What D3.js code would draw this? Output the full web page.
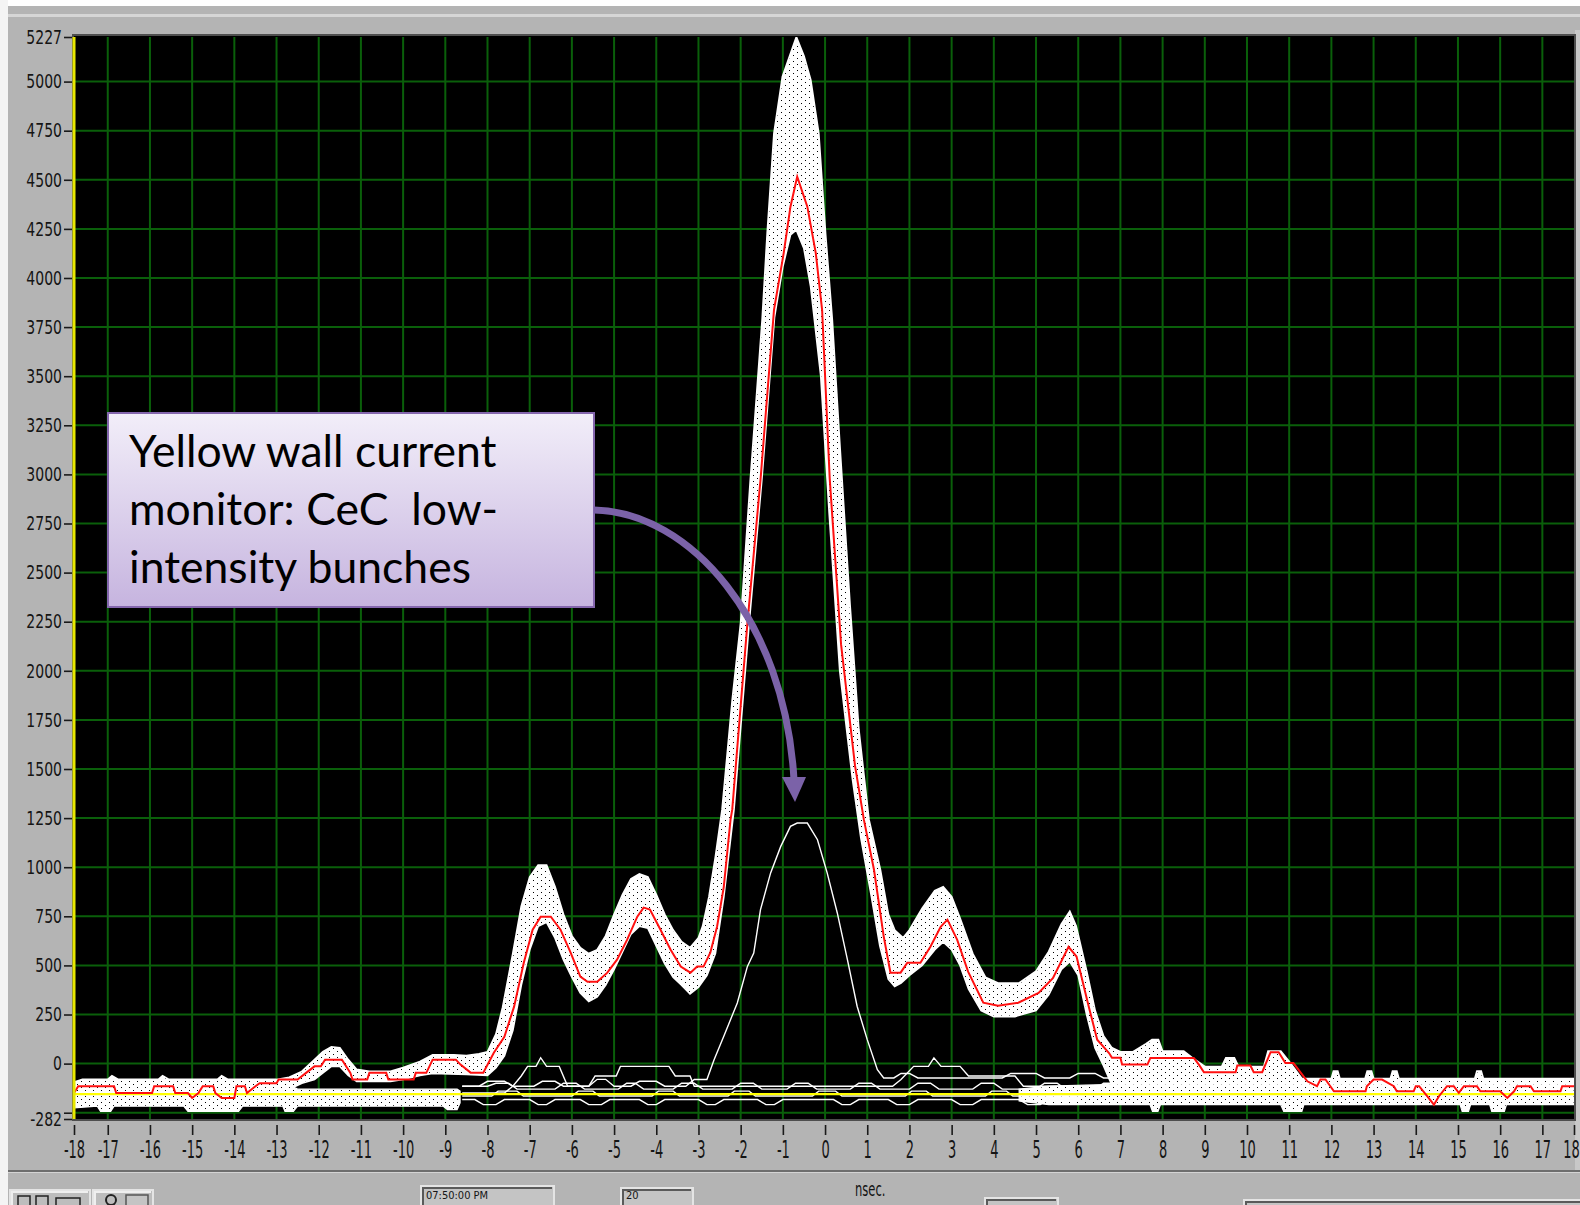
<!DOCTYPE html>
<html lang="en">
<head>
<meta charset="UTF-8">
<script src="https://d3js.org/d3.v7.min.js"></script>
<title>Yellow wall current monitor</title>
<style>
  body { margin:0; background:#b4b4b4; overflow:hidden; }
  .lbl { font-family: 'Liberation Sans Narrow','Arial Narrow','DejaVu Sans Condensed',sans-serif; fill:#151515; }
  .note { font-family: Lato, 'Open Sans', sans-serif; fill:#000; }
</style>
</head>
<body>
<div id="scope"></div>
<script>

// axis ticks (ns on x, counts on y)
let xTickValues = [-17.8,-17,-16,-15,-14,-13,-12,-11,-10,-9,-8,-7,-6,-5,-4,-3,-2,-1,0,
                   1,2,3,4,5,6,7,8,9,10,11,12,13,14,15,16,17,17.75]
let xTickText = ["-18","-17","-16","-15","-14","-13","-12","-11","-10","-9","-8","-7","-6","-5","-4","-3","-2","-1","0",
                 "1","2","3","4","5","6","7","8","9","10","11","12","13","14","15","16","17","18"]
let yTickValues = [-282,-250,0,250,500,750,1000,1250,1500,1750,2000,2250,2500,2750,3000,3250,3500,3750,4000,4250,4500,4750,5000,5227]
let yTickText = ["-282","","0","250","500","750","1000","1250","1500","1750","2000","2250","2500","2750","3000","3250","3500","3750","4000","4250","4500","4750","5000","5227"]

// outer edge of the high-intensity bunch traces [ns, value]
let envUpper = [[-17.8,-95],[-17.6,-81],[-17.0,-81],[-16.9,-62],[-16.75,-81],[-15.8,-81],[-15.7,-62],[-15.55,-81],
  [-14.4,-81],[-14.3,-62],[-14.15,-81],[-13.0,-81],[-12.7,-70],[-12.4,-40],[-12.1,20],[-11.9,60],[-11.7,85],
  [-11.5,80],[-11.3,20],[-11.1,-30],[-10.8,-40],[-10.3,-40],[-10.0,-20],[-9.6,10],[-9.3,45],[-8.8,45],[-8.5,40],
  [-8.2,50],[-8.0,60],[-7.8,150],[-7.64,287],[-7.4,560],[-7.2,800],[-7.0,950],[-6.8,1010],[-6.6,1010],[-6.4,900],
  [-6.2,760],[-6.0,650],[-5.8,590],[-5.6,560],[-5.4,580],[-5.2,650],[-5.0,760],[-4.8,860],[-4.6,940],[-4.4,965],
  [-4.2,950],[-4.0,860],[-3.8,760],[-3.6,680],[-3.4,620],[-3.2,590],[-3.0,640],[-2.9,700],[-2.75,850],[-2.6,1050],
  [-2.44,1293],[-2.2,1850],[-2.0,2243],[-1.77,2972],[-1.49,3787],[-1.37,4228],[-1.21,4737],[-1.01,5025],
  [-0.68,5227],[-0.5,5130],[-0.34,5008],[-0.15,4737],[0.01,4228],[0.17,3787],[0.35,3150],[0.59,2338],[0.8,1700],
  [1.04,1242],[1.31,987],[1.5,760],[1.65,680],[1.85,640],[2.0,680],[2.3,790],[2.6,880],[2.8,900],[3.0,850],
  [3.2,740],[3.5,560],[3.8,440],[4.1,410],[4.6,410],[5.0,470],[5.3,570],[5.6,710],[5.8,775],[5.95,700],[6.2,470],
  [6.4,270],[6.6,140],[6.8,80],[7.0,60],[7.3,60],[7.6,100],[7.75,122],[7.9,122],[8.0,63],[8.5,63],[8.7,30],
  [9.0,-15],[9.4,-15],[9.5,29],[9.7,29],[9.8,-15],[10.4,-15],[10.5,63],[10.8,63],[11.0,10],[11.3,-76],[12.0,-76],
  [12.05,-39],[12.15,-39],[12.2,-76],[12.8,-76],[12.85,-39],[12.95,-39],[13.0,-76],[13.4,-76],[13.45,-39],
  [13.55,-39],[13.6,-76],[15.4,-76],[15.45,-39],[15.55,-39],[15.6,-76],[17.75,-76]]

// inner edge of the same traces [ns, value]
let envLower = [[-17.8,-130],[-12.7,-130],[-12.4,-100],[-12.1,-80],[-11.9,-47],[-11.7,-14],[-11.5,-14],[-11.3,-60],
  [-11.1,-90],[-10.3,-90],[-10.0,-80],[-9.6,-60],[-9.3,-50],[-8.5,-55],[-8.0,-60],[-7.8,-20],[-7.6,40],[-7.4,170],
  [-7.2,400],[-7.0,580],[-6.8,700],[-6.6,720],[-6.4,640],[-6.2,530],[-6.0,440],[-5.8,360],[-5.6,317],[-5.4,340],
  [-5.2,400],[-5.0,480],[-4.8,570],[-4.6,660],[-4.4,700],[-4.2,690],[-4.0,600],[-3.8,510],[-3.6,440],[-3.4,400],
  [-3.2,355],[-3.0,390],[-2.8,450],[-2.6,560],[-2.4,850],[-2.16,1293],[-1.8,2243],[-1.5,2972],[-1.2,3800],
  [-1.0,4060],[-0.82,4220],[-0.68,4245],[-0.5,4150],[-0.34,3956],[-0.1,3500],[0.1,2800],[0.35,2000],[0.65,1450],
  [0.85,1150],[1.1,850],[1.3,600],[1.5,430],[1.65,393],[1.8,410],[2.0,450],[2.3,500],[2.6,580],[2.8,620],
  [3.0,580],[3.2,500],[3.4,380],[3.7,270],[4.0,240],[4.5,240],[5.0,270],[5.3,350],[5.6,480],[5.8,520],[6.0,450],
  [6.2,250],[6.4,80],[6.6,-10],[6.8,-110],[17.75,-110]]

// solid noise band of all traces near the baseline [ns, top, bottom]
let baseLeft = [[-17.8,-100,-225],[-17.25,-100,-217],[-17.17,-100,-243],[-16.93,-100,-243],[-16.85,-100,-217],
  [-15.2,-100,-217],[-15.1,-100,-243],[-13.9,-100,-243],[-13.8,-100,-217],[-12.85,-100,-217],[-12.8,-110,-243],
  [-12.6,-120,-243],[-12.5,-130,-217],[-9.05,-130,-217],[-8.95,-130,-234],[-8.72,-130,-234],[-8.65,-140,-200]]
let baseRight = [[4.6,-130,-190],[5.3,-115,-209],[7.7,-100,-209],[7.76,-100,-243],[7.89,-100,-243],[7.95,-100,-209],
  [10.8,-100,-209],[10.87,-100,-243],[11.3,-100,-243],[11.35,-90,-209],[15.05,-90,-209],[15.1,-90,-243],
  [15.25,-90,-243],[15.3,-90,-209],[15.75,-90,-209],[15.8,-90,-243],[16.1,-90,-243],[16.15,-90,-209],[17.75,-90,-209]]

// reference (red) trace
let redTrace = [[-17.8,-150],[-17.7,-115],[-16.85,-115],[-16.8,-150],[-15.95,-150],[-15.9,-115],[-15.45,-115],
  [-15.4,-150],[-15.1,-150],[-15.0,-175],[-14.85,-150],[-14.75,-115],[-14.5,-115],[-14.45,-150],[-14.3,-175],
  [-14.0,-175],[-13.95,-115],[-13.75,-115],[-13.7,-150],[-13.5,-115],[-13.4,-100],[-13.0,-100],[-12.95,-81],
  [-12.5,-81],[-12.3,-47],[-12.1,-14],[-11.95,-14],[-11.85,20],[-11.45,20],[-11.25,-47],[-11.2,-81],[-10.85,-81],
  [-10.8,-47],[-10.4,-47],[-10.35,-81],[-9.75,-81],[-9.7,-47],[-9.45,-47],[-9.3,20],[-8.75,20],[-8.64,-5],
  [-8.4,-46],[-8.1,-46],[-7.85,55],[-7.6,137],[-7.37,290],[-7.14,514],[-6.93,682],[-6.74,748],[-6.5,748],
  [-6.27,682],[-6.03,565],[-5.8,443],[-5.63,417],[-5.4,417],[-5.16,463],[-4.93,529],[-4.69,631],[-4.45,748],
  [-4.3,794],[-4.15,784],[-3.9,682],[-3.66,580],[-3.42,494],[-3.19,463],[-3.03,494],[-2.88,494],[-2.72,565],
  [-2.56,697],[-2.4,900],[-2.24,1242],[-2.2,1293],[-1.84,2243],[-1.53,2972],[-1.21,3838],[-0.98,4127],
  [-0.82,4363],[-0.66,4516],[-0.42,4363],[-0.22,4127],[-0.07,3838],[0.11,2980],[0.38,2133],[0.71,1517],
  [0.92,1242],[1.16,987],[1.39,648],[1.55,463],[1.79,463],[1.95,514],[2.26,514],[2.5,596],[2.74,697],[2.9,733],
  [3.13,631],[3.39,468],[3.75,310],[4.1,295],[4.58,310],[5.06,360],[5.4,435],[5.77,595],[5.96,545],[6.25,290],
  [6.45,122],[6.73,54],[6.8,30],[7.0,30],[7.04,-5],[7.64,-5],[7.71,29],[8.74,29],[8.86,-5],[8.98,-44],[9.73,-44],
  [9.77,-10],[10.08,-10],[10.16,-44],[10.36,-44],[10.56,58],[10.75,58],[10.91,3],[11.1,3],[11.43,-90],
  [11.66,-115],[11.74,-81],[11.86,-81],[12.06,-141],[12.81,-141],[12.84,-115],[13.0,-81],[13.2,-81],
  [13.48,-115],[13.55,-141],[13.95,-141],[14.0,-115],[14.08,-115],[14.27,-166],[14.43,-209],[14.55,-166],
  [14.74,-115],[14.9,-115],[15.02,-149],[15.14,-115],[15.45,-115],[15.53,-141],[16.0,-141],[16.17,-175],
  [16.33,-141],[16.4,-115],[16.72,-115],[16.8,-141],[17.43,-141],[17.47,-115],[17.75,-115]]

// low-intensity (CeC) bunch
let cecTrace = [[-8.6,-115],[-8.2,-115],[-8.0,-90],[-7.6,-90],[-7.4,-115],[-6.9,-115],[-6.7,-90],[-6.4,-90],
  [-6.2,-115],[-5.6,-115],[-5.4,-80],[-5.2,-80],[-5.0,-115],[-4.6,-115],[-4.4,-90],[-4.0,-90],[-3.8,-115],
  [-3.3,-115],[-3.1,-81],[-2.8,-81],[-2.63,20],[-2.4,139],[-2.08,309],[-1.84,495],[-1.69,563],[-1.53,784],
  [-1.29,971],[-1.05,1106],[-0.82,1208],[-0.66,1225],[-0.42,1225],[-0.18,1140],[0.05,971],[0.29,767],[0.53,529],
  [0.76,292],[1.0,122],[1.24,-31],[1.39,-73],[1.63,-73],[1.8,-50],[2.0,-50],[2.2,-73],[3.6,-73],[4.2,-73],
  [4.4,-50],[5.0,-50],[5.2,-73],[5.8,-73],[6.0,-50],[6.4,-50],[6.6,-73],[7.2,-73]]

// other low-level traces on the baseline
let noiseA = [[-8.6,-150],[-7.6,-150],[-7.4,-115],[-7.2,-63],[-7.05,-14],[-6.85,-14],[-6.74,30],[-6.6,-14],
  [-6.3,-14],[-6.1,-115],[-5.6,-115],[-5.45,-63],[-4.95,-63],[-4.85,-14],[-3.7,-14],[-3.55,-63],[-3.2,-63],
  [-3.1,-115],[-1.0,-115],[0.9,-115],[1.6,-115],[1.8,-81],[2.1,-14],[2.45,-14],[2.58,29],[2.75,-14],[3.2,-14],
  [3.4,-63],[4.5,-63],[4.7,-115],[7.0,-115]]
let noiseB = [[-8.6,-115],[-8.0,-115],[-7.8,-100],[-7.5,-100],[-7.3,-130],[-6.4,-130],[-6.2,-100],[-5.9,-100],
  [-5.7,-130],[-4.9,-130],[-4.7,-100],[-4.5,-100],[-4.3,-130],[-3.6,-130],[-3.4,-100],[-3.1,-100],[-2.9,-130],
  [-2.2,-130],[-2.0,-100],[-1.7,-100],[-1.5,-130],[-0.9,-130],[-0.7,-100],[-0.4,-100],[-0.2,-130],[0.6,-130],
  [0.8,-100],[1.1,-100],[1.3,-130],[2.0,-130],[2.2,-100],[2.5,-100],[2.7,-130],[3.5,-130],[3.7,-100],[4.0,-100],
  [4.2,-130],[5.0,-130],[5.2,-100],[5.5,-100],[5.7,-130],[6.4,-130],[6.6,-100],[7.0,-100]]
let noiseC = [[-8.6,-183],[-8.3,-183],[-8.1,-209],[-7.8,-209],[-7.6,-183],[-7.0,-183],[-6.8,-209],[-6.6,-209],
  [-6.4,-183],[-5.8,-183],[-5.6,-209],[-5.3,-209],[-5.1,-183],[-4.4,-183],[-4.2,-209],[-4.0,-209],[-3.8,-183],
  [-3.0,-183],[-2.8,-209],[-2.6,-209],[-2.4,-183],[-1.6,-183],[-1.4,-209],[-1.2,-209],[-1.0,-183],[0.2,-183],
  [0.4,-209],[0.6,-209],[0.8,-183],[1.5,-183],[1.7,-209],[2.0,-209],[2.2,-183],[3.0,-183],[3.2,-209],[3.5,-209],
  [3.7,-183],[4.6,-183],[4.8,-209],[5.1,-209],[5.3,-183],[6.0,-183]]
let noiseD = [[-8.6,-165],[-7.9,-165],[-7.75,-140],[-7.3,-140],[-7.15,-165],[-6.0,-165],[-5.85,-140],[-5.5,-140],
  [-5.35,-165],[-4.1,-165],[-3.95,-140],[-3.6,-140],[-3.45,-165],[-2.3,-165],[-2.15,-140],[-1.8,-140],
  [-1.65,-165],[-0.3,-165],[-0.15,-140],[0.25,-140],[0.4,-165],[1.9,-165],[2.05,-140],[2.4,-140],[2.55,-165],
  [3.8,-165],[3.95,-140],[4.3,-140],[4.45,-165],[6.0,-165]]

let yellowLevel = -155

// plot box in page pixels
let plot = {left: 74, right: 1574, top: 37, bottom: 1119}
let W = 1580, H = 1205

let svg = d3.select("#scope").append("svg")
        .attr("width", W).attr("height", H)
        .style("display", "block")

let x = d3.scaleLinear().domain([-17.8, 17.75]).range([plot.left, plot.right])
let y = d3.scaleLinear().domain([-282, 5227]).range([plot.bottom, plot.top])

let defs = svg.append("defs")
let pat = defs.append("pattern").attr("id", "speckle")
        .attr("patternUnits", "userSpaceOnUse").attr("width", 8).attr("height", 6)
pat.append("rect").attr("width", 8).attr("height", 6).attr("fill", "#fff")
pat.append("rect").attr("x", 1).attr("y", 1).attr("width", 1).attr("height", 1).attr("fill", "#000")
pat.append("rect").attr("x", 5).attr("y", 4).attr("width", 1).attr("height", 1).attr("fill", "#000")

let grad = defs.append("linearGradient").attr("id", "noteFill")
        .attr("x1", 0).attr("y1", 0).attr("x2", 0).attr("y2", 1)
grad.append("stop").attr("offset", "0%").attr("stop-color", "#f2eef9")
grad.append("stop").attr("offset", "100%").attr("stop-color", "#c6b4df")

defs.append("clipPath").attr("id", "plotClip").append("rect")
        .attr("x", plot.left).attr("y", plot.top)
        .attr("width", plot.right - plot.left).attr("height", plot.bottom - plot.top)

//window frame
svg.append("rect").attr("width", W).attr("height", H).attr("fill", "#b4b4b4")
svg.append("rect").attr("width", W).attr("height", 6).attr("fill", "#fff")
svg.append("rect").attr("width", 8).attr("height", H).attr("fill", "#f4f4f4")
svg.append("rect").attr("x", 8).attr("y", 14).attr("width", W - 8).attr("height", 3).attr("fill", "#d6d6d6")
svg.append("rect").attr("x", plot.right + 1).attr("y", 30).attr("width", 5).attr("height", 1140).attr("fill", "#c8c8c8")

// plot background + grid
svg.append("rect")
        .attr("x", plot.left - 1).attr("y", plot.top - 2)
        .attr("width", plot.right - plot.left + 2).attr("height", plot.bottom - plot.top + 3)
        .attr("fill", "#000").attr("stroke", "#4e4e4e").attr("stroke-width", 2)

let g = svg.append("g").attr("clip-path", "url(#plotClip)")

g.append("g").selectAll("line")
        .data(xTickValues.slice(1, -1))
        .join("line")
        .attr("x1", d => x(d)).attr("x2", d => x(d))
        .attr("y1", plot.top).attr("y2", plot.bottom)
        .attr("stroke", "#0a5f0a").attr("stroke-width", 2)
g.append("g").selectAll("line")
        .data(yTickValues.slice(1, -1))
        .join("line")
        .attr("x1", plot.left).attr("x2", plot.right)
        .attr("y1", d => y(d)).attr("y2", d => y(d))
        .attr("stroke", "#0a5f0a").attr("stroke-width", 2)

let line = d3.line().x(d => x(d[0])).y(d => y(d[1]))
let band = d3.area().x(d => x(d[0])).y0(d => y(d[2])).y1(d => y(d[1]))

// baseline noise bands
g.selectAll(".base")
        .data([baseLeft, baseRight])
        .join("path")
        .attr("class", "base")
        .attr("d", d => band(d))
        .attr("fill", "url(#speckle)")
        .attr("stroke", "#fff").attr("stroke-width", 1.2)

// thin low-level traces
g.selectAll(".thin")
        .data([noiseC, noiseD, noiseB, noiseA, cecTrace])
        .join("path")
        .attr("class", "thin")
        .attr("d", d => line(d))
        .attr("fill", "none")
        .attr("stroke", "#fff").attr("stroke-width", 1.4)

// envelope of high intensity bunches
g.append("path")
        .attr("d", line(envUpper.concat(envLower.slice().reverse())) + "Z")
        .attr("fill", "url(#speckle)")
        .attr("stroke", "#fff").attr("stroke-width", 1.8)

g.append("line")
        .attr("x1", plot.left).attr("x2", plot.right)
        .attr("y1", y(yellowLevel)).attr("y2", y(yellowLevel))
        .attr("stroke", "#ffff00").attr("stroke-width", 2.2)

g.append("path")
        .attr("d", line(redTrace))
        .attr("fill", "none")
        .attr("stroke", "#ff1010").attr("stroke-width", 2)

svg.append("line")
        .attr("x1", plot.left).attr("x2", plot.left)
        .attr("y1", plot.top).attr("y2", plot.bottom)
        .attr("stroke", "#e8e800").attr("stroke-width", 3)

// y axis
let yAxis = svg.append("g")
        .attr("transform", "translate(" + (plot.left - 2) + ",0)")
        .call(d3.axisLeft(y).tickValues(yTickValues).tickSize(8).tickPadding(2)
                .tickFormat((d, i) => yTickText[i]))
yAxis.select(".domain").remove()
yAxis.selectAll("line").attr("stroke", "#1a1a1a").attr("stroke-width", 1.6)
yAxis.selectAll("text")
        .attr("class", "lbl").attr("fill", null)
        .style("font-size", "19.5px")
        .attr("x", -10 / 0.8)
        .attr("transform", "scale(0.8,1)")

// x axis
let xAxis = svg.append("g")
        .attr("transform", "translate(0,1125)")
        .call(d3.axisBottom(x).tickValues(xTickValues).tickSize(10)
                .tickFormat((d, i) => xTickText[i]))
xAxis.select(".domain").remove()
xAxis.selectAll("line").attr("stroke", "#1a1a1a").attr("stroke-width", 1.6)
xAxis.selectAll("text")
        .attr("class", "lbl").attr("fill", null)
        .style("font-size", "19.5px")
        .attr("y", 0).attr("dy", null)
        .attr("transform", "translate(0,33) scale(0.74,1.28)")
xAxis.selectAll("text").filter((d, i) => i === xTickValues.length - 1)
        .attr("text-anchor", "end").attr("x", 7)

// status strip under the graph
svg.append("rect").attr("x", 8).attr("y", 1170).attr("width", W).attr("height", 2).attr("fill", "#6e6e6e")
svg.append("rect").attr("x", 8).attr("y", 1172).attr("width", W).attr("height", 1).attr("fill", "#d4d4d4")

let widgets = [
  {x: 10, y: 1190, w: 80, raised: true},
  {x: 93, y: 1190, w: 60, raised: true},
  {x: 421, y: 1186, w: 133, raised: false, label: "07:50:00 PM"},
  {x: 621, y: 1188, w: 72, raised: false, label: "20"},
  {x: 985, y: 1198, w: 73, raised: false},
  {x: 1244, y: 1200, w: 340, raised: false}
]
let wg = svg.append("g").selectAll("g").data(widgets).join("g")
wg.append("rect")
        .attr("x", d => d.x).attr("y", d => d.y)
        .attr("width", d => d.w).attr("height", 30)
        .attr("fill", d => d.raised ? "#bdbdbd" : "#c4c4c4")
        .attr("stroke", "#e4e4e4").attr("stroke-width", 2)
wg.append("path")
        .attr("d", d => "M" + (d.x + 2) + "," + (d.y + 32) + "V" + (d.y + 2) + "H" + (d.x + d.w - 2))
        .attr("fill", "none")
        .attr("stroke", d => d.raised ? "#efefef" : "#5a5a5a").attr("stroke-width", 2)
wg.filter(d => d.label).append("text")
        .attr("class", "lbl")
        .attr("x", d => d.x + 5).attr("y", 1199)
        .style("font-size", "11px")
        .text(d => d.label)

// tiny tool icons in the two left buttons
svg.append("path").attr("d", "M18,1205V1196H30V1205M36,1205V1196H48V1205M56,1205V1198H80V1205")
        .attr("fill", "none").attr("stroke", "#222").attr("stroke-width", 1.5)
svg.append("circle").attr("cx", 111).attr("cy", 1200).attr("r", 5)
        .attr("fill", "none").attr("stroke", "#222").attr("stroke-width", 2)
svg.append("rect").attr("x", 126).attr("y", 1195).attr("width", 22).attr("height", 12)
        .attr("fill", "#c4c4c4").attr("stroke", "#555").attr("stroke-width", 1.5)

svg.append("text").attr("class", "lbl")
        .attr("transform", "translate(855,1196) scale(0.8,1.25)")
        .style("font-size", "16px")
        .text("nsec.")

// annotation
let note = svg.append("g")
note.append("rect")
        .attr("x", 108).attr("y", 413).attr("width", 486).attr("height", 194)
        .attr("fill", "url(#noteFill)")
        .attr("stroke", "#8466ad").attr("stroke-width", 2)
note.selectAll("text")
        .data(["Yellow wall current", "monitor: CeC  low-", "intensity bunches"])
        .join("text")
        .attr("class", "note")
        .attr("x", 129).attr("y", (d, i) => 467 + i * 58)
        .attr("xml:space", "preserve")
        .style("white-space", "pre")
        .style("font-size", "44.5px")
        .text(d => d)

svg.append("path")
        .attr("d", "M594,510 C690,512 785,620 794,780")
        .attr("fill", "none")
        .attr("stroke", "#7b62a8").attr("stroke-width", 7)
svg.append("path")
        .attr("d", "M782,777 L806,777 L795,802 Z")
        .attr("fill", "#7b62a8")

</script>
</body>
</html>
